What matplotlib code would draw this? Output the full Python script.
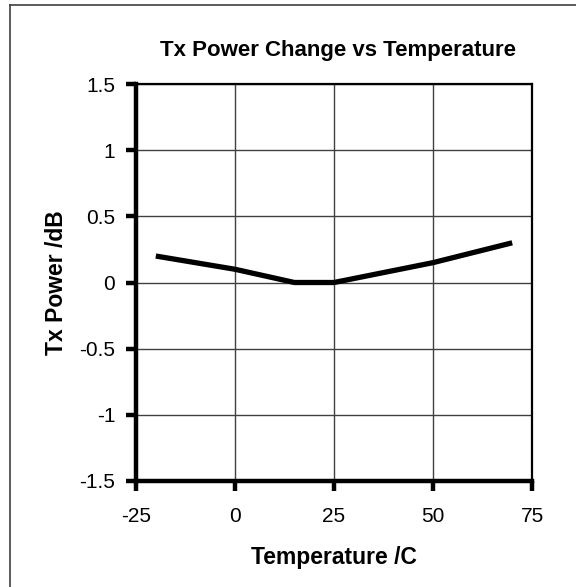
import matplotlib.pyplot as plt
from matplotlib.lines import Line2D

plt.rcParams['font.family'] = ['Liberation Sans', 'DejaVu Sans']
plt.rcParams['axes.unicode_minus'] = False

# data
temperature = [-20, 0, 15, 25, 50, 70]
tx_power = [0.2, 0.1, 0.0, 0.0, 0.15, 0.3]
x_ticks = [-25, 0, 25, 50, 75]
y_ticks = [-1.5, -1, -0.5, 0, 0.5, 1, 1.5]
y_tick_labels = ['-1.5', '-1', '-0.5', '0', '0.5', '1', '1.5']

fig = plt.figure(figsize=(5.76, 5.87), dpi=100)
ax = fig.add_axes([136 / 576, 1 - 481 / 587, 396 / 576, 397 / 587])

ax.plot(temperature, tx_power, color='black', linewidth=3.8, solid_capstyle='butt', zorder=3)

ax.set_xlim(-25, 75)
ax.set_ylim(-1.5, 1.5)
ax.set_xticks(x_ticks)
ax.set_yticks(y_ticks)
ax.set_yticklabels(y_tick_labels)
ax.grid(True, color='#404040', linewidth=1.0)
ax.set_axisbelow(True)

for side in ['left', 'bottom']:
    ax.spines[side].set_linewidth(3.2)
for side in ['top', 'right']:
    ax.spines[side].set_linewidth(1.6)
ax.tick_params(direction='out', length=7, width=3.2, labelsize=15, pad=8)
ax.tick_params(axis='x', pad=12)

ax.set_title('Tx Power Change vs Temperature', fontsize=16, fontweight='bold', pad=20, x=0.51)
ax.set_xlabel('Temperature /C', fontsize=16.5, fontweight='bold', labelpad=14)
ax.set_ylabel('Tx Power /dB', fontsize=16.5, fontweight='bold', labelpad=8)

# outer chart border (left and top edges visible)
fig.add_artist(Line2D([10 / 576, 10 / 576], [0, 1 - 5 / 587], color='#404040', linewidth=1.2))
fig.add_artist(Line2D([10 / 576, 1], [1 - 5 / 587, 1 - 5 / 587], color='#404040', linewidth=1.2))

fig.savefig('out.png', dpi=100)
